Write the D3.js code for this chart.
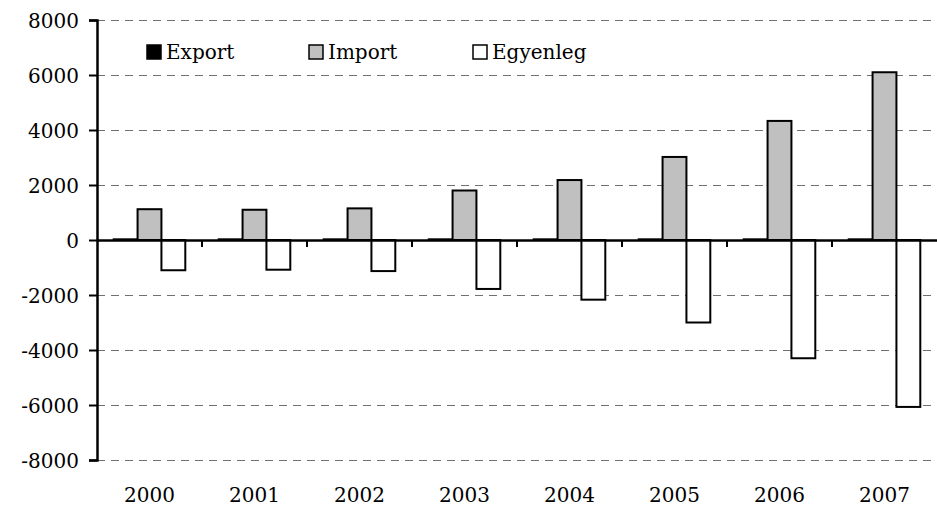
<!DOCTYPE html>
<html><head><meta charset="utf-8">
<script src="https://cdn.jsdelivr.net/npm/d3@7/dist/d3.min.js"></script>
<style>body{margin:0;background:#fff}svg{display:block}text{font-family:"DejaVu Serif","Liberation Serif",serif;fill:#000}</style>
</head><body><svg id="c" width="937" height="511"></svg>
<script>
const years = ["2000","2001","2002","2003","2004","2005","2006","2007"];
const exportVals = [25, 25, 25, 25, 25, 25, 25, 25];
const importVals = [1120, 1100, 1150, 1800, 2180, 3020, 4330, 6100];
const balanceVals = [-1100, -1080, -1130, -1780, -2170, -3000, -4300, -6070];
const seriesNames = ["Export", "Import", "Egyenleg"];
const seriesColors = ["#000000", "#c0c0c0", "#ffffff"];
const yTicks = [-8000, -6000, -4000, -2000, 0, 2000, 4000, 6000, 8000];

const svg = d3.select("#c");
const mLeft = 97, mRight = 937, mTop = 20, mBottom = 460;
const x = d3.scaleBand().domain(years).range([mLeft, mRight]).paddingInner(0).paddingOuter(0);
const y = d3.scaleLinear().domain([-8000, 8000]).range([mBottom, mTop]);
const xs = d3.scaleBand().domain(seriesNames).range([0, x.bandwidth()]).paddingInner(0).paddingOuter(0.7);

// gridlines
svg.append("g").selectAll("line").data(yTicks.filter(d => d !== 0)).join("line")
  .attr("x1", mLeft).attr("x2", mRight).attr("y1", d => y(d) + 0.5).attr("y2", d => y(d) + 0.5)
  .attr("stroke", "#707070").attr("stroke-width", 1).attr("stroke-dasharray", "8,6");

// y axis
const yAxis = d3.axisLeft(y).tickValues(yTicks).tickSize(8).tickPadding(10).tickFormat(d => d < 0 ? "-" + Math.abs(d) : String(d));
const yg = svg.append("g").attr("transform", `translate(${mLeft},0)`).call(yAxis);
yg.select(".domain").attr("stroke", "#000").attr("stroke-width", 2.5);
yg.selectAll(".tick line").attr("stroke", "#000").attr("stroke-width", 2);
yg.selectAll(".tick text").style("font-size", "20px").attr("dy", "0.35em");

// bars
const data = years.map((yr, i) => ({yr, vals: [exportVals[i], importVals[i], balanceVals[i]]}));
const groups = svg.append("g").selectAll("g").data(data).join("g")
  .attr("transform", d => `translate(${x(d.yr)},0)`);
groups.selectAll("rect").data(d => d.vals.map((v, j) => ({v, s: seriesNames[j], j}))).join("rect")
  .attr("x", d => xs(d.s)).attr("width", xs.bandwidth())
  .attr("y", d => y(Math.max(0, d.v))).attr("height", d => Math.abs(y(d.v) - y(0)))
  .attr("fill", d => seriesColors[d.j]).attr("stroke", "#000").attr("stroke-width", 2);

// zero axis
const xAxis = d3.axisBottom(x).tickSize(0).tickFormat("");
const xg = svg.append("g").attr("transform", `translate(0,${y(0)})`).call(xAxis);
xg.select(".domain").attr("stroke", "#000").attr("stroke-width", 2.5);
// category boundary ticks
svg.append("g").selectAll("line").data(years.slice(1)).join("line")
  .attr("x1", d => x(d)).attr("x2", d => x(d)).attr("y1", y(0)).attr("y2", y(0) + 7)
  .attr("stroke", "#000").attr("stroke-width", 2);

// x labels
svg.append("g").selectAll("text").data(years).join("text")
  .attr("x", d => x(d) + x.bandwidth() / 2).attr("y", 502).attr("text-anchor", "middle")
  .style("font-size", "20px").text(d => d);

// legend
const legX = [147, 309, 473];
const leg = svg.append("g").selectAll("g").data(seriesNames).join("g")
  .attr("transform", (d, i) => `translate(${legX[i]},45)`);
leg.append("rect").attr("width", 14).attr("height", 14)
  .attr("fill", (d, i) => seriesColors[i]).attr("stroke", "#000").attr("stroke-width", 1.5);
leg.append("text").attr("x", 19).attr("y", 14).style("font-size", "20px").text(d => d);
</script></body></html>
